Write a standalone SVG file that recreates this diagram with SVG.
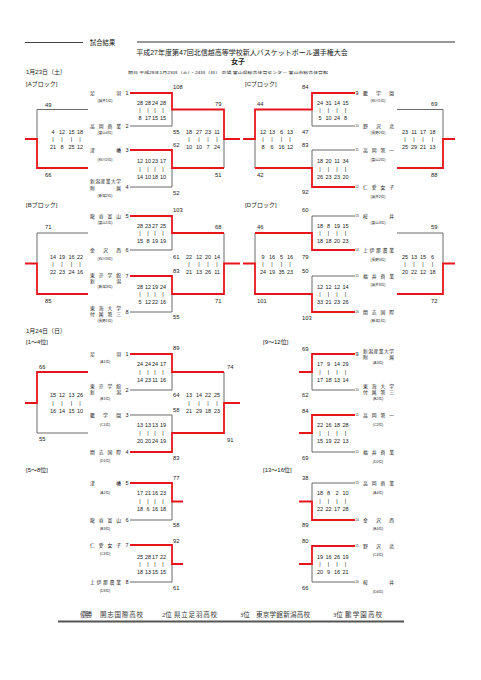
<svg xmlns="http://www.w3.org/2000/svg" width="481" height="680" viewBox="0 0 481 680">
<style>
text{font-family:"Liberation Sans","Noto Sans CJK JP",sans-serif;fill:#222}
.r{stroke:#e8141c;stroke-width:1.8;fill:none}
.g{stroke:#5a5a5a;stroke-width:0.9;fill:none}
.n{font-size:5.8px}
.s{font-size:5.5px;text-anchor:middle}
.t{font-size:4.8px}
.l{font-size:3.5px;text-anchor:middle}
.k{font-size:5.5px;text-anchor:middle}
.k2{font-size:3px;text-anchor:middle}
.h{font-size:6px}
.f{font-family:"Liberation Serif","Noto Sans CJK JP",serif;font-size:6.5px;fill:#333}
</style>
<g id="header">
<path d="M25,42.5H83" stroke="#444" stroke-width="1"/>
<path d="M137,42H455" stroke="#333" stroke-width="1.2"/>
<text x="90" y="45" style="font-size:6.3px">試合結果</text>
<text x="242" y="54.5" style="font-size:7px;text-anchor:middle">平成27年度第47回北信越高等学校新人バスケットボール選手権大会</text>
<text x="238" y="63.5" style="font-size:7px;text-anchor:middle;font-weight:bold">女子</text>
<text x="26" y="74" class="h">1月23日（土）</text>
<text x="128" y="74" style="font-size:3.8px" textLength="200" lengthAdjust="spacingAndGlyphs">期日 平成28年1月23日（土）・24日（日） 会場 富山県総合体育センター 富山市総合体育館</text>
<text x="26" y="85.5" class="h">[Aブロック]</text>
<text x="245" y="85.5" class="h">[Cブロック]</text>
<text x="26" y="207" class="h">[Bブロック]</text>
<text x="245" y="207" class="h">[Dブロック]</text>
<text x="26" y="333" class="h">1月24日（日）</text>
<text x="26" y="343.5" class="h">[1～4位]</text>
<text x="263" y="343.5" class="h">[9～12位]</text>
<text x="26" y="472" class="h">[5～8位]</text>
<text x="263" y="472" class="h">[13～16位]</text>
</g>
<g id="connectors">
<!-- A block -->
<path class="g" d="M130,126H172V109.5M130,187H172V168M224,139V168M88,109.5H37V139"/>
<path class="r" d="M130,93H172V109.5H224V139H240M130,150H172V168H224M88,168H37V139H25"/>
<!-- B block -->
<path class="g" d="M130,250H172V233M130,312H172V294M224,233V263.5M88,233H37V263.5"/>
<path class="r" d="M130,216H172V233H224M130,276H172V294H224V263.5H240M88,294H37V263.5H25"/>
<!-- C block -->
<path class="g" d="M355,126H312V109.5M355,150H312V168M255,139V168M397,109.5H443V139"/>
<path class="r" d="M355,93H312V109.5H255V139H243M355,187H312V168H255M397,168H443V139H455"/>
<!-- D block -->
<path class="g" d="M355,216H312V233M355,276H312V294M255,233V263.5M397,233H443V263.5"/>
<path class="r" d="M355,250H312V233H255M355,312H312V294H255V263.5H243M397,294H443V263.5H455"/>
<!-- 1-4 -->
<path class="g" d="M130,390H172V372M130,415H172V433M224,372V403M88,433H37V403"/>
<path class="r" d="M130,354H172V372H224M130,452H172V433H224V403H240M88,372H37V403H25"/>
<!-- 9-12 -->
<path class="g" d="M355,390H312V372M355,452H312V433"/>
<path class="r" d="M355,354H312V372H299M355,415H312V433H299"/>
<!-- 13-16 -->
<path class="g" d="M355,483H312V501.5M355,582H312V564"/>
<path class="r" d="M355,520H312V501.5H299M355,546H312V564H299"/>
<!-- 5-8 -->
<path class="g" d="M130,520H172V501.5M130,582H172V564"/>
<path class="r" d="M130,483H172V501.5H183M130,545H172V564H183"/>
</g>
<!-- A block teams -->
<g id="a1"><text class="t" x="90" y="94.7" textLength="31" lengthAdjust="spacing">足羽</text><text class="l" x="105" y="102.3">(福井1位)</text><text class="k" x="127" y="95">1</text></g>
<g id="a2"><text class="t" x="90" y="127.7" textLength="31" lengthAdjust="spacing">高岡商業</text><text class="l" x="105" y="134.3">(富山4位)</text><text class="k" x="127" y="128">2</text></g>
<g id="a3"><text class="t" x="90" y="151.7" textLength="31" lengthAdjust="spacing">津幡</text><text class="l" x="105" y="161.3">(石川2位)</text><text class="k" x="127" y="152">3</text></g>
<g id="a4"><text class="t" x="90" y="183.2" textLength="31" lengthAdjust="spacing">新潟産業大学</text><text class="t" x="90" y="190.2" textLength="31" lengthAdjust="spacing">附属</text><text class="l" x="105" y="197.3">(新潟2位)</text><text class="k" x="127" y="189">4</text></g>
<!-- B block teams -->
<g id="b5"><text class="t" x="90" y="217.7" textLength="31" lengthAdjust="spacing">龍谷富山</text><text class="l" x="105" y="224.3">(富山1位)</text><text class="k" x="127" y="218">5</text></g>
<g id="b6"><text class="t" x="90" y="251.7" textLength="31" lengthAdjust="spacing">金沢西</text><text class="l" x="105" y="260.3">(石川3位)</text><text class="k" x="127" y="252">6</text></g>
<g id="b7"><text class="t" x="90" y="276.7" textLength="31" lengthAdjust="spacing">東京学館</text><text class="t" x="90" y="283.2" textLength="31" lengthAdjust="spacing">新潟</text><text class="l" x="105" y="288.3">(新潟3位)</text><text class="k" x="127" y="278">7</text></g>
<g id="b8"><text class="t" x="90" y="309.7" textLength="31" lengthAdjust="spacing">東海大学</text><text class="t" x="90" y="316.2" textLength="31" lengthAdjust="spacing">付属第三</text><text class="l" x="105" y="322.3">(長野1位)</text><text class="k" x="127" y="314">8</text></g>
<!-- C block teams -->
<g id="c9"><text class="k" x="357" y="95">9</text><text class="t" x="363" y="94.7" textLength="31" lengthAdjust="spacing">鵬学園</text><text class="l" x="378" y="102.3">(石川1位)</text></g>
<g id="c10"><text class="k2" x="357" y="127.1">10</text><text class="t" x="363" y="127.7" textLength="31" lengthAdjust="spacing">野沢北</text><text class="l" x="378" y="134.3">(長野2位)</text></g>
<g id="c11"><text class="k2" x="357" y="151.1">11</text><text class="t" x="363" y="151.7" textLength="31" lengthAdjust="spacing">高岡第一</text><text class="l" x="378" y="161.3">(富山2位)</text></g>
<g id="c12"><text class="k2" x="357" y="188.1">12</text><text class="t" x="363" y="188.7" textLength="31" lengthAdjust="spacing">仁愛女子</text><text class="l" x="378" y="198.3">(福井2位)</text></g>
<!-- D block teams -->
<g id="d13"><text class="k2" x="357" y="217.1">13</text><text class="t" x="363" y="217.7" textLength="31" lengthAdjust="spacing">桜井</text><text class="l" x="378" y="224.3">(富山3位)</text></g>
<g id="d14"><text class="k2" x="357" y="251.1">14</text><text class="t" x="363" y="251.7" textLength="31" lengthAdjust="spacing">上伊那農業</text><text class="l" x="378" y="261.3">(長野3位)</text></g>
<g id="d15"><text class="k2" x="357" y="277.1">15</text><text class="t" x="363" y="277.7" textLength="31" lengthAdjust="spacing">福井商業</text><text class="l" x="378" y="286.3">(福井3位)</text></g>
<g id="d16"><text class="k2" x="357" y="313.1">16</text><text class="t" x="363" y="313.7" textLength="31" lengthAdjust="spacing">開志国際</text><text class="l" x="378" y="322.3">(新潟1位)</text></g>
<!-- 1-4 teams -->
<g id="p1"><text class="t" x="90" y="355.7" textLength="31" lengthAdjust="spacing">足羽</text><text class="l" x="105" y="363.3">(A1位)</text><text class="k" x="127" y="356">1</text></g>
<g id="p2"><text class="t" x="90" y="387.7" textLength="31" lengthAdjust="spacing">東京学館</text><text class="t" x="90" y="393.7" textLength="31" lengthAdjust="spacing">新潟</text><text class="l" x="105" y="399.8">(B1位)</text><text class="k" x="127" y="392">2</text></g>
<g id="p3"><text class="t" x="90" y="416.7" textLength="31" lengthAdjust="spacing">鵬学園</text><text class="l" x="105" y="426.3">(C1位)</text><text class="k" x="127" y="417">3</text></g>
<g id="p4"><text class="t" x="90" y="453.7" textLength="31" lengthAdjust="spacing">開志国際</text><text class="l" x="105" y="462.3">(D1位)</text><text class="k" x="127" y="454">4</text></g>
<!-- 9-12 teams -->
<g id="p9"><text class="k" x="357" y="356">9</text><text class="t" x="363" y="352.7" textLength="31" lengthAdjust="spacing">新潟産業大学</text><text class="t" x="363" y="359.2" textLength="31" lengthAdjust="spacing">附属</text><text class="l" x="378" y="364.3">(A3位)</text></g>
<g id="p10"><text class="k2" x="357" y="391.1">10</text><text class="t" x="363" y="387.7" textLength="31" lengthAdjust="spacing">東海大学</text><text class="t" x="363" y="393.7" textLength="31" lengthAdjust="spacing">付属第三</text><text class="l" x="378" y="400.3">(B2位)</text></g>
<g id="p11"><text class="k2" x="357" y="416.1">11</text><text class="t" x="363" y="416.7" textLength="31" lengthAdjust="spacing">高岡第一</text><text class="l" x="378" y="426.3">(C2位)</text></g>
<g id="p12"><text class="k2" x="357" y="453.1">12</text><text class="t" x="363" y="453.7" textLength="31" lengthAdjust="spacing">福井商業</text><text class="l" x="378" y="463.3">(D2位)</text></g>
<!-- 13-16 teams -->
<g id="p13"><text class="k2" x="357" y="484.1">13</text><text class="t" x="363" y="484.7" textLength="31" lengthAdjust="spacing">高岡商業</text><text class="l" x="378" y="494.3">(A4位)</text></g>
<g id="p14"><text class="k2" x="357" y="521.1">14</text><text class="t" x="363" y="521.7" textLength="31" lengthAdjust="spacing">金沢西</text><text class="l" x="378" y="530.3">(B4位)</text></g>
<g id="p15"><text class="k2" x="357" y="547.1">15</text><text class="t" x="363" y="547.7" textLength="31" lengthAdjust="spacing">野沢北</text><text class="l" x="378" y="556.3">(C4位)</text></g>
<g id="p16"><text class="k2" x="357" y="583.1">16</text><text class="t" x="363" y="583.7" textLength="31" lengthAdjust="spacing">桜井</text><text class="l" x="378" y="593.3">(D4位)</text></g>
<!-- 5-8 teams -->
<g id="p5"><text class="t" x="90" y="484.7" textLength="31" lengthAdjust="spacing">津幡</text><text class="l" x="105" y="494.3">(A2位)</text><text class="k" x="127" y="485">5</text></g>
<g id="p6"><text class="t" x="90" y="521.7" textLength="31" lengthAdjust="spacing">龍谷富山</text><text class="l" x="105" y="530.3">(B3位)</text><text class="k" x="127" y="522">6</text></g>
<g id="p7"><text class="t" x="90" y="546.7" textLength="31" lengthAdjust="spacing">仁愛女子</text><text class="l" x="105" y="555.3">(C3位)</text><text class="k" x="127" y="547">7</text></g>
<g id="p8"><text class="t" x="90" y="583.7" textLength="31" lengthAdjust="spacing">上伊那農業</text><text class="l" x="105" y="592.3">(D3位)</text><text class="k" x="127" y="584">8</text></g>
<!-- totals -->
<g id="totals" class="n">
<text x="173" y="89">108</text><text x="45" y="107">49</text><text x="215" y="106">79</text><text x="173" y="134">55</text><text x="173" y="147">62</text><text x="45" y="177">66</text><text x="215" y="177">51</text><text x="173" y="195">52</text>
<text x="173" y="212">103</text><text x="45" y="229">71</text><text x="215" y="229">68</text><text x="173" y="259">61</text><text x="173" y="273">83</text><text x="45" y="303">85</text><text x="215" y="303">71</text><text x="173" y="319">55</text>
<text x="302" y="89">84</text><text x="257" y="106">44</text><text x="302" y="134">47</text><text x="302" y="147">83</text><text x="257" y="177">42</text><text x="302" y="194">92</text><text x="431" y="106">69</text><text x="431" y="177">88</text>
<text x="302" y="212">60</text><text x="257" y="229">46</text><text x="302" y="259">79</text><text x="302" y="273">50</text><text x="257" y="303">101</text><text x="302" y="320">103</text><text x="431" y="229">59</text><text x="431" y="303">72</text>
<text x="173" y="350">89</text><text x="39" y="369">66</text><text x="227" y="369">74</text><text x="173" y="397">64</text><text x="173" y="412">58</text><text x="39" y="441">55</text><text x="227" y="442">91</text><text x="173" y="460">83</text>
<text x="302" y="351">69</text><text x="302" y="397">62</text><text x="302" y="413">84</text><text x="302" y="460">69</text>
<text x="302" y="480">38</text><text x="302" y="527">89</text><text x="302" y="543">80</text><text x="302" y="590">66</text>
<text x="173" y="480">77</text><text x="173" y="527">58</text><text x="173" y="543">92</text><text x="173" y="590">61</text>
</g>
<!-- quarter scores -->
<g id="scores" class="s">
<!-- A inner top -->
<text y="105"><tspan x="140">28</tspan><tspan x="148">28</tspan><tspan x="155">24</tspan><tspan x="163">28</tspan></text>
<text y="112"><tspan x="140">|</tspan><tspan x="148">|</tspan><tspan x="155">|</tspan><tspan x="163">|</tspan></text>
<text y="120"><tspan x="140">8</tspan><tspan x="148">17</tspan><tspan x="155">15</tspan><tspan x="163">15</tspan></text>
<!-- A inner bottom -->
<text y="163"><tspan x="140">12</tspan><tspan x="148">10</tspan><tspan x="155">23</tspan><tspan x="163">17</tspan></text>
<text y="170.5"><tspan x="140">|</tspan><tspan x="148">|</tspan><tspan x="155">|</tspan><tspan x="163">|</tspan></text>
<text y="179"><tspan x="140">14</tspan><tspan x="148">10</tspan><tspan x="155">18</tspan><tspan x="163">10</tspan></text>
<!-- A left -->
<text y="134"><tspan x="53">4</tspan><tspan x="62">12</tspan><tspan x="71.5">15</tspan><tspan x="80">18</tspan></text>
<text y="141"><tspan x="53">|</tspan><tspan x="62">|</tspan><tspan x="71.5">|</tspan><tspan x="80">|</tspan></text>
<text y="149"><tspan x="53">21</tspan><tspan x="62">8</tspan><tspan x="71.5">25</tspan><tspan x="80">12</tspan></text>
<!-- A right -->
<text y="134"><tspan x="189">18</tspan><tspan x="199">27</tspan><tspan x="208">23</tspan><tspan x="217">11</tspan></text>
<text y="141"><tspan x="189">|</tspan><tspan x="199">|</tspan><tspan x="208">|</tspan><tspan x="217">|</tspan></text>
<text y="149"><tspan x="189">10</tspan><tspan x="199">10</tspan><tspan x="208">7</tspan><tspan x="217">24</tspan></text>
<!-- B inner top -->
<text y="228"><tspan x="140">28</tspan><tspan x="148">23</tspan><tspan x="155">27</tspan><tspan x="163">25</tspan></text>
<text y="235"><tspan x="140">|</tspan><tspan x="148">|</tspan><tspan x="155">|</tspan><tspan x="163">|</tspan></text>
<text y="243"><tspan x="140">15</tspan><tspan x="148">8</tspan><tspan x="155">19</tspan><tspan x="163">19</tspan></text>
<!-- B inner bottom -->
<text y="289"><tspan x="140">28</tspan><tspan x="148">12</tspan><tspan x="155">19</tspan><tspan x="163">24</tspan></text>
<text y="296"><tspan x="140">|</tspan><tspan x="148">|</tspan><tspan x="155">|</tspan><tspan x="163">|</tspan></text>
<text y="304"><tspan x="140">5</tspan><tspan x="148">12</tspan><tspan x="155">22</tspan><tspan x="163">16</tspan></text>
<!-- B left -->
<text y="259"><tspan x="53">14</tspan><tspan x="62">19</tspan><tspan x="71.5">16</tspan><tspan x="80">22</tspan></text>
<text y="266"><tspan x="53">|</tspan><tspan x="62">|</tspan><tspan x="71.5">|</tspan><tspan x="80">|</tspan></text>
<text y="274"><tspan x="53">22</tspan><tspan x="62">23</tspan><tspan x="71.5">24</tspan><tspan x="80">16</tspan></text>
<!-- B right -->
<text y="259"><tspan x="189">22</tspan><tspan x="199">12</tspan><tspan x="208">20</tspan><tspan x="217">14</tspan></text>
<text y="266"><tspan x="189">|</tspan><tspan x="199">|</tspan><tspan x="208">|</tspan><tspan x="217">|</tspan></text>
<text y="274"><tspan x="189">21</tspan><tspan x="199">13</tspan><tspan x="208">26</tspan><tspan x="217">11</tspan></text>
<!-- C inner top -->
<text y="105"><tspan x="320">24</tspan><tspan x="328.5">31</tspan><tspan x="337">14</tspan><tspan x="345.5">15</tspan></text>
<text y="112"><tspan x="320">|</tspan><tspan x="328.5">|</tspan><tspan x="337">|</tspan><tspan x="345.5">|</tspan></text>
<text y="120"><tspan x="320">5</tspan><tspan x="328.5">10</tspan><tspan x="337">24</tspan><tspan x="345.5">8</tspan></text>
<!-- C inner bottom -->
<text y="163"><tspan x="320">18</tspan><tspan x="328.5">20</tspan><tspan x="337">11</tspan><tspan x="345.5">34</tspan></text>
<text y="170.5"><tspan x="320">|</tspan><tspan x="328.5">|</tspan><tspan x="337">|</tspan><tspan x="345.5">|</tspan></text>
<text y="179"><tspan x="320">26</tspan><tspan x="328.5">23</tspan><tspan x="337">23</tspan><tspan x="345.5">20</tspan></text>
<!-- C left -->
<text y="134"><tspan x="263">12</tspan><tspan x="272">13</tspan><tspan x="281.5">6</tspan><tspan x="290">13</tspan></text>
<text y="141"><tspan x="263">|</tspan><tspan x="272">|</tspan><tspan x="281.5">|</tspan><tspan x="290">|</tspan></text>
<text y="149"><tspan x="263">8</tspan><tspan x="272">6</tspan><tspan x="281.5">16</tspan><tspan x="290">12</tspan></text>
<!-- C right -->
<text y="134"><tspan x="405">23</tspan><tspan x="414">11</tspan><tspan x="423">17</tspan><tspan x="432.5">18</tspan></text>
<text y="141"><tspan x="405">|</tspan><tspan x="414">|</tspan><tspan x="423">|</tspan><tspan x="432.5">|</tspan></text>
<text y="149"><tspan x="405">25</tspan><tspan x="414">29</tspan><tspan x="423">21</tspan><tspan x="432.5">13</tspan></text>
<!-- D inner top -->
<text y="228"><tspan x="320">18</tspan><tspan x="328.5">8</tspan><tspan x="337">19</tspan><tspan x="345.5">15</tspan></text>
<text y="235"><tspan x="320">|</tspan><tspan x="328.5">|</tspan><tspan x="337">|</tspan><tspan x="345.5">|</tspan></text>
<text y="243"><tspan x="320">18</tspan><tspan x="328.5">18</tspan><tspan x="337">20</tspan><tspan x="345.5">23</tspan></text>
<!-- D inner bottom -->
<text y="289"><tspan x="320">12</tspan><tspan x="328.5">12</tspan><tspan x="337">12</tspan><tspan x="345.5">14</tspan></text>
<text y="296"><tspan x="320">|</tspan><tspan x="328.5">|</tspan><tspan x="337">|</tspan><tspan x="345.5">|</tspan></text>
<text y="304"><tspan x="320">33</tspan><tspan x="328.5">21</tspan><tspan x="337">23</tspan><tspan x="345.5">26</tspan></text>
<!-- D left -->
<text y="259"><tspan x="263">9</tspan><tspan x="272">16</tspan><tspan x="281.5">5</tspan><tspan x="290">16</tspan></text>
<text y="266"><tspan x="263">|</tspan><tspan x="272">|</tspan><tspan x="281.5">|</tspan><tspan x="290">|</tspan></text>
<text y="274"><tspan x="263">24</tspan><tspan x="272">19</tspan><tspan x="281.5">35</tspan><tspan x="290">23</tspan></text>
<!-- D right -->
<text y="259"><tspan x="405">25</tspan><tspan x="414">13</tspan><tspan x="423">15</tspan><tspan x="432.5">6</tspan></text>
<text y="266"><tspan x="405">|</tspan><tspan x="414">|</tspan><tspan x="423">|</tspan><tspan x="432.5">|</tspan></text>
<text y="274"><tspan x="405">20</tspan><tspan x="414">22</tspan><tspan x="423">12</tspan><tspan x="432.5">18</tspan></text>
<!-- 1-4 inner top -->
<text y="366"><tspan x="140">24</tspan><tspan x="148">24</tspan><tspan x="155">24</tspan><tspan x="163">17</tspan></text>
<text y="373.5"><tspan x="140">|</tspan><tspan x="148">|</tspan><tspan x="155">|</tspan><tspan x="163">|</tspan></text>
<text y="382"><tspan x="140">14</tspan><tspan x="148">23</tspan><tspan x="155">11</tspan><tspan x="163">16</tspan></text>
<!-- 1-4 inner bottom -->
<text y="427"><tspan x="140">13</tspan><tspan x="148">13</tspan><tspan x="155">13</tspan><tspan x="163">19</tspan></text>
<text y="434.5"><tspan x="140">|</tspan><tspan x="148">|</tspan><tspan x="155">|</tspan><tspan x="163">|</tspan></text>
<text y="443"><tspan x="140">20</tspan><tspan x="148">20</tspan><tspan x="155">24</tspan><tspan x="163">19</tspan></text>
<!-- 1-4 left -->
<text y="397"><tspan x="53">15</tspan><tspan x="62">12</tspan><tspan x="71.5">13</tspan><tspan x="80">26</tspan></text>
<text y="404.5"><tspan x="53">|</tspan><tspan x="62">|</tspan><tspan x="71.5">|</tspan><tspan x="80">|</tspan></text>
<text y="413"><tspan x="53">16</tspan><tspan x="62">14</tspan><tspan x="71.5">15</tspan><tspan x="80">10</tspan></text>
<!-- 1-4 right -->
<text y="397"><tspan x="189">13</tspan><tspan x="199">14</tspan><tspan x="208">22</tspan><tspan x="217">25</tspan></text>
<text y="404.5"><tspan x="189">|</tspan><tspan x="199">|</tspan><tspan x="208">|</tspan><tspan x="217">|</tspan></text>
<text y="413"><tspan x="189">21</tspan><tspan x="199">29</tspan><tspan x="208">18</tspan><tspan x="217">23</tspan></text>
<!-- 9-12 top -->
<text y="366"><tspan x="320">17</tspan><tspan x="328.5">9</tspan><tspan x="337">14</tspan><tspan x="345.5">29</tspan></text>
<text y="373.5"><tspan x="320">|</tspan><tspan x="328.5">|</tspan><tspan x="337">|</tspan><tspan x="345.5">|</tspan></text>
<text y="382"><tspan x="320">17</tspan><tspan x="328.5">18</tspan><tspan x="337">13</tspan><tspan x="345.5">14</tspan></text>
<!-- 9-12 bottom -->
<text y="427"><tspan x="320">22</tspan><tspan x="328.5">16</tspan><tspan x="337">18</tspan><tspan x="345.5">28</tspan></text>
<text y="434.5"><tspan x="320">|</tspan><tspan x="328.5">|</tspan><tspan x="337">|</tspan><tspan x="345.5">|</tspan></text>
<text y="443"><tspan x="320">15</tspan><tspan x="328.5">19</tspan><tspan x="337">22</tspan><tspan x="345.5">13</tspan></text>
<!-- 13-16 top -->
<text y="495"><tspan x="320">18</tspan><tspan x="328.5">8</tspan><tspan x="337">2</tspan><tspan x="345.5">10</tspan></text>
<text y="502.5"><tspan x="320">|</tspan><tspan x="328.5">|</tspan><tspan x="337">|</tspan><tspan x="345.5">|</tspan></text>
<text y="511"><tspan x="320">22</tspan><tspan x="328.5">22</tspan><tspan x="337">17</tspan><tspan x="345.5">28</tspan></text>
<!-- 13-16 bottom -->
<text y="559"><tspan x="320">19</tspan><tspan x="328.5">16</tspan><tspan x="337">26</tspan><tspan x="345.5">19</tspan></text>
<text y="566"><tspan x="320">|</tspan><tspan x="328.5">|</tspan><tspan x="337">|</tspan><tspan x="345.5">|</tspan></text>
<text y="574"><tspan x="320">20</tspan><tspan x="328.5">9</tspan><tspan x="337">16</tspan><tspan x="345.5">21</tspan></text>
<!-- 5-8 top -->
<text y="495"><tspan x="140">17</tspan><tspan x="148">21</tspan><tspan x="155">16</tspan><tspan x="163">23</tspan></text>
<text y="502.5"><tspan x="140">|</tspan><tspan x="148">|</tspan><tspan x="155">|</tspan><tspan x="163">|</tspan></text>
<text y="511"><tspan x="140">18</tspan><tspan x="148">6</tspan><tspan x="155">16</tspan><tspan x="163">18</tspan></text>
<!-- 5-8 bottom -->
<text y="559"><tspan x="140">25</tspan><tspan x="148">28</tspan><tspan x="155">17</tspan><tspan x="163">22</tspan></text>
<text y="566"><tspan x="140">|</tspan><tspan x="148">|</tspan><tspan x="155">|</tspan><tspan x="163">|</tspan></text>
<text y="574"><tspan x="140">18</tspan><tspan x="148">13</tspan><tspan x="155">15</tspan><tspan x="163">15</tspan></text>
</g>
<g id="footer">
<text class="f" x="80" y="617" textLength="12" lengthAdjust="spacing">優勝</text>
<text class="f" x="100" y="617" textLength="43" lengthAdjust="spacing">開志国際高校</text>
<text class="f" x="162" y="617">2位</text>
<text class="f" x="174" y="617" textLength="43" lengthAdjust="spacing">県立足羽高校</text>
<text class="f" x="240" y="617">3位</text>
<text class="f" x="256" y="617" textLength="54" lengthAdjust="spacing">東京学館新潟高校</text>
<text class="f" x="333" y="617">3位</text>
<text class="f" x="345" y="617" textLength="37" lengthAdjust="spacing">鵬学園高校</text>
<path d="M58,621.5H404" stroke="#555" stroke-width="2"/>
</g>
</svg>
